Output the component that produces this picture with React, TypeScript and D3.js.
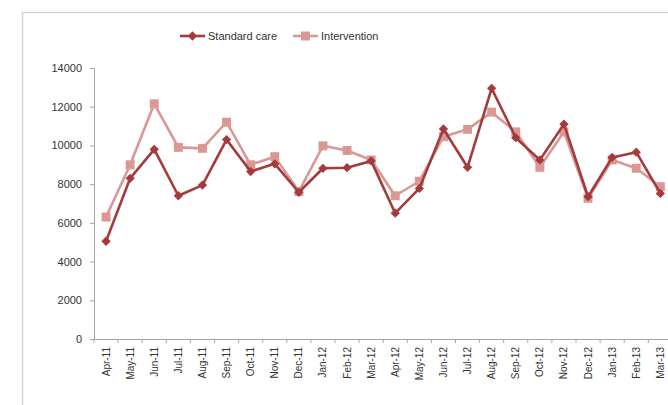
import { useRef, useEffect, RefObject } from 'react';
import * as d3 from 'd3';

const months: string[] = [
  'Apr-11', 'May-11', 'Jun-11', 'Jul-11', 'Aug-11', 'Sep-11', 'Oct-11', 'Nov-11',
  'Dec-11', 'Jan-12', 'Feb-12', 'Mar-12', 'Apr-12', 'May-12', 'Jun-12', 'Jul-12',
  'Aug-12', 'Sep-12', 'Oct-12', 'Nov-12', 'Dec-12', 'Jan-13', 'Feb-13', 'Mar-13',
];
const standardCare: number[] = [
  5050, 8300, 9800, 7400, 7950, 10300, 8650, 9050, 7580, 8820, 8850, 9200,
  6500, 7780, 10850, 8870, 12950, 10400, 9250, 11100, 7350, 9380, 9650, 7520,
];
const intervention: number[] = [
  6300, 9000, 12150, 9900, 9850, 11200, 9000, 9420, 7620, 9980, 9740, 9250,
  7400, 8150, 10450, 10830, 11720, 10700, 8870, 10700, 7270, 9250, 8820, 7870,
];
const yTicks: number[] = [0, 2000, 4000, 6000, 8000, 10000, 12000, 14000];
const seriesNames: string[] = ['Standard care', 'Intervention'];

const DARK = '#A53A3D';
const PINK = '#DB9794';

const Chart = () => {
  const svgRef: RefObject<SVGSVGElement> = useRef(null);

  useEffect(() => {
    const width = 668;
    const height = 405;
    const left = 94;
    const top = 68;
    const bottom = 339;
    const step = 24.1;

    const svg = d3.select(svgRef.current);
    svg.selectAll('*').remove();
    svg
      .attr('width', width)
      .attr('height', height)
      .style('display', 'block')
      .style('font-family', '"Liberation Sans", Arial, sans-serif');

    // chart frame (its right and bottom edges are off the picture)
    svg.append('path')
      .attr('d', `M22.5,${height}V12.5H${width}`)
      .attr('fill', 'none')
      .attr('stroke', '#d4d4d4')
      .attr('stroke-width', 1.5);

    const x = d3.scaleBand<string>()
      .domain(months)
      .range([left, left + step * months.length]);
    const y = d3.scaleLinear().domain([0, 14000]).range([bottom, top]);
    const cx = (m: string) => (x(m) ?? 0) + x.bandwidth() / 2;

    // y axis
    const yAxis = svg.append('g')
      .attr('transform', `translate(${left},0)`)
      .call(d3.axisLeft(y).tickValues(yTicks).tickSize(4).tickPadding(8).tickFormat(d3.format('d')));
    yAxis.select('.domain').attr('stroke', '#a6a6a6');
    yAxis.selectAll('.tick line').attr('stroke', '#a6a6a6');
    yAxis.selectAll('.tick text').attr('fill', '#333').attr('font-size', 11);

    // x axis
    const xAxis = svg.append('g')
      .attr('transform', `translate(0,${bottom})`)
      .call(d3.axisBottom(x).tickSize(0).tickPadding(0));
    xAxis.select('.domain').attr('stroke', '#a6a6a6').attr('stroke-width', 1.2);
    xAxis.selectAll('.tick text')
      .attr('fill', '#333')
      .attr('font-size', 10)
      .attr('text-anchor', 'end')
      .attr('transform', 'rotate(-90)')
      .attr('x', -8)
      .attr('y', 0)
      .attr('dy', '0.35em');
    xAxis.selectAll('.boundary')
      .data(d3.range(months.length + 1))
      .join('line')
      .attr('x1', (i) => left + i * step)
      .attr('x2', (i) => left + i * step)
      .attr('y1', 0)
      .attr('y2', 4)
      .attr('stroke', '#a6a6a6');

    const line = d3.line<number>()
      .x((_, i) => cx(months[i]))
      .y((d) => y(d));

    const diamond = d3.symbol().type(d3.symbolDiamond2).size(55);
    const square = d3.symbol().type(d3.symbolSquare).size(80);

    // intervention
    svg.append('path')
      .datum(intervention)
      .attr('fill', 'none')
      .attr('stroke', PINK)
      .attr('stroke-width', 2.6)
      .attr('stroke-linejoin', 'round')
      .attr('d', line);
    svg.append('g').selectAll('path')
      .data(intervention)
      .join('path')
      .attr('transform', (d, i) => `translate(${cx(months[i])},${y(d)})`)
      .attr('d', square())
      .attr('fill', PINK);

    // standard care
    svg.append('path')
      .datum(standardCare)
      .attr('fill', 'none')
      .attr('stroke', DARK)
      .attr('stroke-width', 2.6)
      .attr('stroke-linejoin', 'round')
      .attr('d', line);
    svg.append('g').selectAll('path')
      .data(standardCare)
      .join('path')
      .attr('transform', (d, i) => `translate(${cx(months[i])},${y(d)})`)
      .attr('d', diamond())
      .attr('fill', DARK);

    // legend
    const legendItems = [
      { name: seriesNames[0], color: DARK, sym: diamond, x: 180 },
      { name: seriesNames[1], color: PINK, sym: square, x: 293 },
    ];
    const lg = svg.append('g').selectAll('g')
      .data(legendItems)
      .join('g')
      .attr('transform', (d) => `translate(${d.x},36)`);
    lg.append('line')
      .attr('x1', 0).attr('x2', 25)
      .attr('stroke', (d) => d.color)
      .attr('stroke-width', 2.6);
    lg.append('path')
      .attr('transform', 'translate(12.5,0)')
      .attr('d', (d) => d.sym())
      .attr('fill', (d) => d.color);
    lg.append('text')
      .attr('x', 28)
      .attr('dy', '0.35em')
      .attr('font-size', 11)
      .attr('fill', '#333')
      .text((d) => d.name);
  }, []);

  return <svg ref={svgRef}></svg>;
};

export default function App() {
  return (
    <div style={{ position: 'fixed', left: 0, top: 0, width: 668, height: 405, overflow: 'hidden', background: '#fff' }}>
      <Chart />
    </div>
  );
}
